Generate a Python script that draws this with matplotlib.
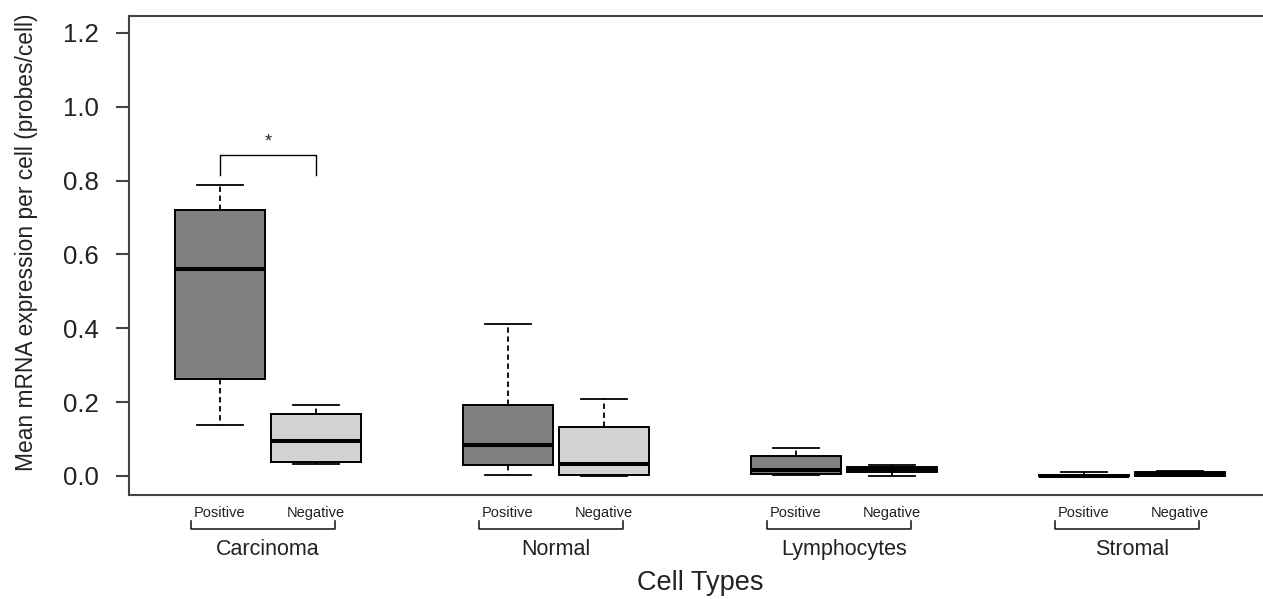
import matplotlib
matplotlib.use("Agg")
import matplotlib.pyplot as plt
from matplotlib.lines import Line2D

plt.rcParams['font.family'] = ['Liberation Sans', 'DejaVu Sans']

# ---- data ----
groups = ["Carcinoma", "Normal", "Lymphocytes", "Stromal"]
subgroups = ["Positive", "Negative"]
positions = [1, 2, 4, 5, 7, 8, 10, 11]
# order: Carc+, Carc-, Norm+, Norm-, Lymph+, Lymph-, Strom+, Strom-
whislo = [0.137, 0.033, 0.004, 0.000, 0.004, 0.000, 0.000, 0.000]
q1     = [0.262, 0.039, 0.029, 0.004, 0.005, 0.010, 0.000, 0.001]
med    = [0.560, 0.094, 0.083, 0.032, 0.016, 0.018, 0.001, 0.006]
q3     = [0.721, 0.167, 0.191, 0.134, 0.054, 0.025, 0.004, 0.011]
whishi = [0.788, 0.191, 0.413, 0.209, 0.076, 0.030, 0.010, 0.014]
colors = ["#808080", "#d3d3d3"] * 4
yticks = [0.0, 0.2, 0.4, 0.6, 0.8, 1.0, 1.2]
sig_x = [1, 2]
sig_legs = [0.815, 0.815]
sig_top = 0.869
sig_label = "*"

W, H = 1263, 599
fig = plt.figure(figsize=(W / 100, H / 100), dpi=100)
ax_left, ax_bottom = 129 / W, (H - 495) / H
ax_w, ax_h = (W - 129 + 20) / W, (495 - 16) / H
ax = fig.add_axes([ax_left, ax_bottom, ax_w, ax_h])

stats = []
for i in range(len(positions)):
    stats.append(dict(whislo=whislo[i], q1=q1[i], med=med[i], q3=q3[i],
                      whishi=whishi[i], fliers=[]))

bp = ax.bxp(stats, positions=positions, widths=0.94, patch_artist=True,
            showfliers=False,
            boxprops=dict(edgecolor="black", linewidth=1.4),
            medianprops=dict(color="black", linewidth=2.9, solid_capstyle="butt"),
            whiskerprops=dict(color="black", linewidth=1.3, linestyle=(0, (3, 2))),
            capprops=dict(color="black", linewidth=1.3),
            capwidths=0.48)
for patch, c in zip(bp["boxes"], colors):
    patch.set_facecolor(c)

ax.set_xlim(0.052, 0.052 + (W - 129 + 20) / 96)
ax.set_ylim(-0.0515, 1.246)
ax.set_yticks(yticks)
ax.set_yticklabels([f"{v:.1f}" for v in yticks])
ax.set_xticks([])

spine_c = "#444444"
for s in ["left", "bottom", "top"]:
    ax.spines[s].set_color(spine_c)
    ax.spines[s].set_linewidth(1.5)
ax.spines["right"].set_visible(False)
ax.tick_params(axis="y", length=9.5, width=1.5, color=spine_c, pad=12,
               labelsize=18.5, labelcolor="#222222")

fig.text(27 / W, 1 - 242 / H, "Mean mRNA expression per cell (probes/cell)",
         rotation=90, ha="center", va="center", fontsize=16.4, color="#222222")

# significance bracket
ax.plot([sig_x[0], sig_x[0], sig_x[1], sig_x[1]],
        [sig_legs[0], sig_top, sig_top, sig_legs[1]],
        color="black", linewidth=1.0)
ax.text((sig_x[0] + sig_x[1]) / 2, sig_top + 0.012, sig_label, ha="center",
        va="bottom", fontsize=13, color="#222222")

# category labels below axis
tr = ax.get_xaxis_transform()
def yfrac(ypx):
    return (495 - ypx) / (495 - 16)

for gi, g in enumerate(groups):
    p = positions[2 * gi]
    n = positions[2 * gi + 1]
    ax.text(p, yfrac(517), subgroups[0], transform=tr, ha="center", va="baseline",
            fontsize=10.5, color="#222222")
    ax.text(n, yfrac(517), subgroups[1], transform=tr, ha="center", va="baseline",
            fontsize=10.5, color="#222222")
    ax.add_line(Line2D([p - 0.3, p - 0.3, n + 0.2, n + 0.2],
                       [yfrac(521), yfrac(529), yfrac(529), yfrac(521)],
                       transform=tr, clip_on=False, color="#222222", linewidth=1.2))
    ax.text((p + n) / 2, yfrac(555), g, transform=tr, ha="center", va="baseline",
            fontsize=15.5, color="#222222")

ax.text(6.0, yfrac(590), "Cell Types", transform=tr, ha="center", va="baseline",
        fontsize=19.5, color="#222222")

fig.savefig("out.png", dpi=100)
